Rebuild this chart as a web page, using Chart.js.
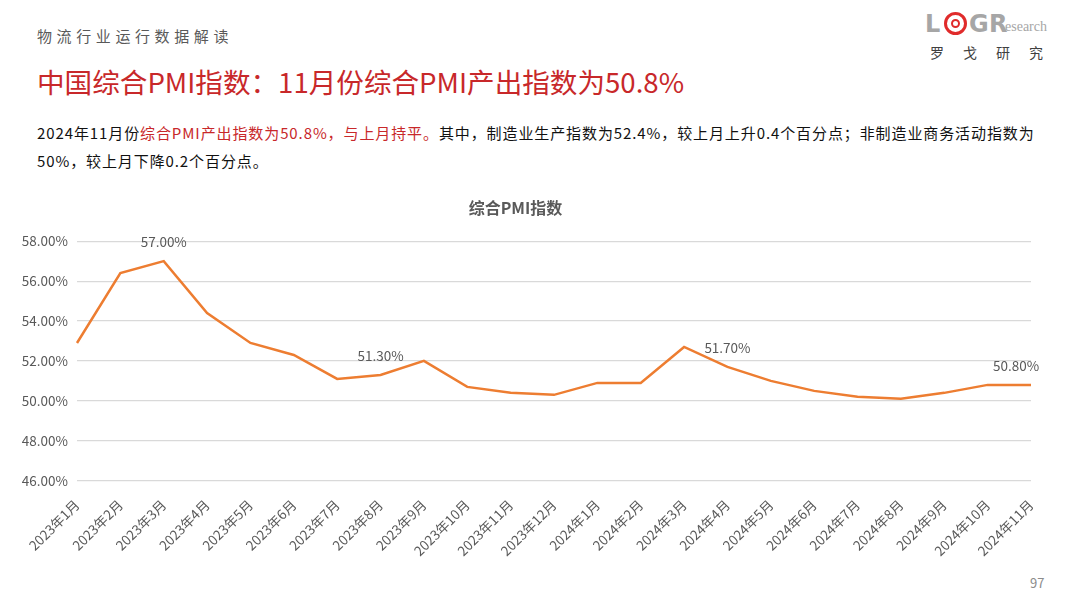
<!DOCTYPE html>
<html>
<head>
<meta charset="utf-8">
<script src="https://cdn.jsdelivr.net/npm/chart.js@4"></script>
<style>
  body { margin: 0; width: 1080px; height: 596px; background: #fff; position: relative; overflow: hidden;
         font-family: "Noto Sans CJK SC", "Noto Sans", sans-serif; }
  .topic { position: absolute; left: 37px; top: 25px; font-size: 15px; color: #595959; letter-spacing: 4.6px; }
  .title { position: absolute; left: 37px; top: 61px; font-size: 27.6px; color: #c8282a; }
  .desc { position: absolute; left: 37px; top: 119px; width: 1012px; font-size: 15px; line-height: 28px; color: #111; letter-spacing: 0.9px; }
  .desc span { color: #c8282a; }
  .logo { position: absolute; left: 922px; top: 8px; width: 140px; height: 60px; }
  .logo .big { position: absolute; top: 2px; font-size: 24px; font-weight: bold; color: #a6a6a6; font-family: "DejaVu Sans", sans-serif; }
  .logo .ring { position: absolute; left: 22px; top: 4px; width: 23px; height: 23px; border: 3px solid #e02b2b; border-radius: 50%; box-sizing: border-box; }
  .logo .ring::after { content: ""; position: absolute; left: 4px; top: 4px; width: 9px; height: 9px; border: 2px solid #e02b2b; border-radius: 50%; box-sizing: border-box; }
  .logo .small { position: absolute; left: 83px; top: 11px; font-size: 14px; color: #a6a6a6; font-family: "Liberation Serif", serif; }
  .logo .cn { position: absolute; left: 8px; top: 34px; font-size: 14px; color: #404040; letter-spacing: 19px; }
  .page { position: absolute; left: 1030px; top: 573px; font-size: 13px; color: #8c8c8c; }
  #wrap { position: absolute; left: 0; top: 190px; width: 1080px; height: 377px; }
</style>
</head>
<body>
<div class="topic">物流行业运行数据解读</div>
<div class="title">中国综合PMI指数：11月份综合PMI产出指数为50.8%</div>
<div class="desc">2024年11月份<span>综合PMI产出指数为50.8%，与上月持平。</span>其中，制造业生产指数为52.4%，较上月上升0.4个百分点；非制造业商务活动指数为50%，较上月下降0.2个百分点。</div>
<div class="logo">
  <span class="big" style="left:3px">L</span>
  <span class="ring"></span>
  <span class="big" style="left:47px">G</span>
  <span class="big" style="left:67px">R</span>
  <span class="small">esearch</span>
  <span class="cn">罗戈研究</span>
</div>
<div class="page">97</div>
<div id="wrap"><canvas id="myChart"></canvas></div>
<script>
// 月份
const months = ['2023年1月', '2023年2月', '2023年3月', '2023年4月', '2023年5月', '2023年6月',
  '2023年7月', '2023年8月', '2023年9月', '2023年10月', '2023年11月', '2023年12月',
  '2024年1月', '2024年2月', '2024年3月', '2024年4月', '2024年5月', '2024年6月',
  '2024年7月', '2024年8月', '2024年9月', '2024年10月', '2024年11月'];
// 综合PMI产出指数 (%)
const pmiValues = [52.9, 56.4, 57.0, 54.4, 52.9, 52.3, 51.1, 51.3, 52.0, 50.7, 50.4, 50.3,
  50.9, 50.9, 52.7, 51.7, 51.0, 50.5, 50.2, 50.1, 50.4, 50.8, 50.8];
// 显示数值标签的点
const labelIdx = [2, 7, 15, 22];
const yTicks = [46, 48, 50, 52, 54, 56, 58];

// 数据标签
const valueLabels = {
  id: 'valueLabels',
  afterDatasetsDraw(chart) {
    const ctx = chart.ctx;
    const meta = chart.getDatasetMeta(0);
    ctx.save();
    ctx.font = '13.5px "Noto Sans CJK SC", sans-serif';
    ctx.fillStyle = '#595959';
    ctx.textBaseline = 'middle';
    ctx.textAlign = 'center';
    labelIdx.forEach(i => {
      const pt = meta.data[i];
      const text = pmiValues[i].toFixed(2) + '%';
      let x = pt.x;
      if (i === 22) x -= 15; // 最后一个点往左挪
      ctx.fillText(text, x, pt.y - 19);
    });
    ctx.restore();
  }
};

const ctx = document.getElementById('myChart').getContext('2d');
new Chart(ctx, {
  type: 'line',
  data: {
    labels: months,
    datasets: [{
      label: '综合PMI指数',
      data: pmiValues,
      borderColor: '#ed7d31',
      borderWidth: 2.5,
      pointRadius: 0,
      tension: 0,
      fill: false
    }]
  },
  options: {
    responsive: true,
    maintainAspectRatio: false,
    animation: false,
    layout: { padding: { left: 0, right: 49, top: 0, bottom: 0 } },
    plugins: {
      legend: { display: false },
      tooltip: { enabled: false },
      title: {
        display: true,
        text: '综合PMI指数',
        color: '#595959',
        font: { size: 16, weight: 'bold', family: '"Noto Sans CJK SC", sans-serif' },
        padding: { top: 8, bottom: 24 }
      }
    },
    scales: {
      x: {
        offset: false,
        grid: { display: false },
        border: { display: false },
        ticks: {
          color: '#595959',
          font: { size: 13.5, family: '"Noto Sans CJK SC", sans-serif' },
          minRotation: 45,
          maxRotation: 45,
          autoSkip: false,
          padding: 8
        }
      },
      y: {
        min: 46,
        max: 58,
        afterFit(scale) { scale.width = 77; },
        afterBuildTicks(scale) { scale.ticks = yTicks.map(v => ({ value: v })); },
        grid: { color: '#d9d9d9', lineWidth: 1.2, drawTicks: false },
        border: { display: false },
        ticks: {
          color: '#595959',
          font: { size: 13.5, family: '"Noto Sans CJK SC", sans-serif' },
          padding: 9,
          callback: v => v.toFixed(2) + '%'
        }
      }
    }
  },
  plugins: [valueLabels]
});
</script>
</body>
</html>
